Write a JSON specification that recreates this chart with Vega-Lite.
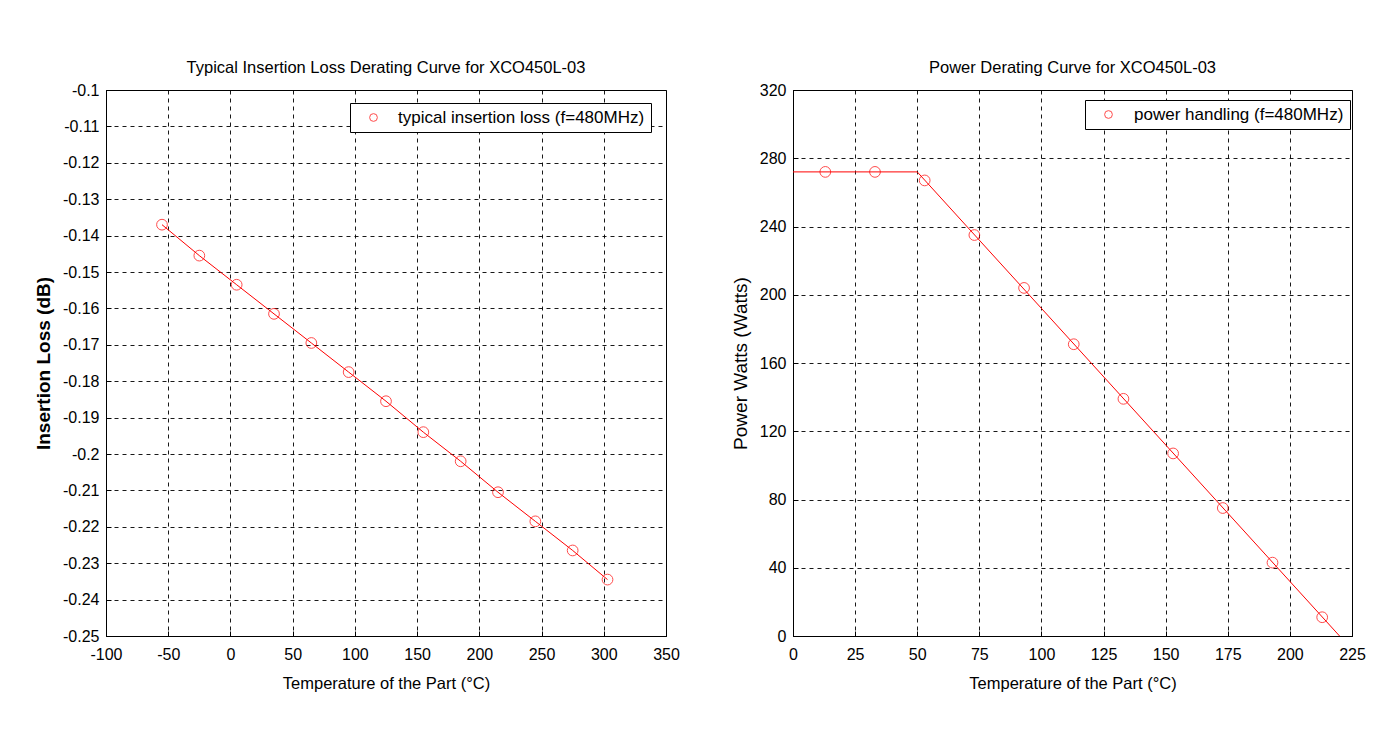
{
  "$schema": "https://vega.github.io/schema/vega-lite/v6.json",
  "background": "white",
  "padding": {"left": 34, "top": 59, "right": 10, "bottom": 10},
  "spacing": 50,
  "datasets": {
    "loss": [
      {"temp": -55, "loss": -0.137, "series": "typical insertion loss (f=480MHz)"},
      {"temp": -25, "loss": -0.1455, "series": "typical insertion loss (f=480MHz)"},
      {"temp": 5, "loss": -0.1535, "series": "typical insertion loss (f=480MHz)"},
      {"temp": 35, "loss": -0.1615, "series": "typical insertion loss (f=480MHz)"},
      {"temp": 65, "loss": -0.1695, "series": "typical insertion loss (f=480MHz)"},
      {"temp": 95, "loss": -0.1775, "series": "typical insertion loss (f=480MHz)"},
      {"temp": 125, "loss": -0.1855, "series": "typical insertion loss (f=480MHz)"},
      {"temp": 155, "loss": -0.194, "series": "typical insertion loss (f=480MHz)"},
      {"temp": 185, "loss": -0.202, "series": "typical insertion loss (f=480MHz)"},
      {"temp": 215, "loss": -0.2105, "series": "typical insertion loss (f=480MHz)"},
      {"temp": 245, "loss": -0.2185, "series": "typical insertion loss (f=480MHz)"},
      {"temp": 275, "loss": -0.2265, "series": "typical insertion loss (f=480MHz)"},
      {"temp": 303, "loss": -0.2345, "series": "typical insertion loss (f=480MHz)"}
    ],
    "power": [
      {"temp": 13, "watts": 272, "series": "power handling (f=480MHz)"},
      {"temp": 33, "watts": 272, "series": "power handling (f=480MHz)"},
      {"temp": 53, "watts": 267, "series": "power handling (f=480MHz)"},
      {"temp": 73, "watts": 235, "series": "power handling (f=480MHz)"},
      {"temp": 93, "watts": 204, "series": "power handling (f=480MHz)"},
      {"temp": 113, "watts": 171, "series": "power handling (f=480MHz)"},
      {"temp": 133, "watts": 139, "series": "power handling (f=480MHz)"},
      {"temp": 153, "watts": 107, "series": "power handling (f=480MHz)"},
      {"temp": 173, "watts": 75, "series": "power handling (f=480MHz)"},
      {"temp": 193, "watts": 43, "series": "power handling (f=480MHz)"},
      {"temp": 213, "watts": 11, "series": "power handling (f=480MHz)"}
    ],
    "powerCurve": [
      {"temp": 0, "watts": 272},
      {"temp": 50, "watts": 272},
      {"temp": 220, "watts": 0}
    ]
  },
  "hconcat": [
    {
      "width": 560,
      "height": 546,
      "title": {"text": "Typical Insertion Loss Derating Curve for XCO450L-03", "offset": 6},
      "layer": [
        {
          "data": {"name": "loss"},
          "mark": {"type": "line", "color": "red", "strokeWidth": 1},
          "encoding": {
            "x": {"field": "temp", "type": "quantitative", "scale": {"domain": [-100, 350], "nice": false, "zero": false},
              "axis": {"title": "Temperature of the Part (°C)", "values": [-100, -50, 0, 50, 100, 150, 200, 250, 300, 350], "tickCount": 20, "labelExpr": "replace(format(datum.value, 'd'), '\u2212', '-')", "labelPadding": 15, "titlePadding": 13}},
            "y": {"field": "loss", "type": "quantitative", "scale": {"domain": [-0.25, -0.1], "nice": false, "zero": false},
              "axis": {"title": "Insertion Loss (dB)", "titleFontWeight": "bold", "titleFontSize": 19, "titlePadding": 9, "labelPadding": 12, "labelOverlap": false, "tickCount": 20, "values": [-0.25, -0.24, -0.23, -0.22, -0.21, -0.2, -0.19, -0.18, -0.17, -0.16, -0.15, -0.14, -0.13, -0.12, -0.11, -0.1], "labelExpr": "replace(format(datum.value, '~g'), '\u2212', '-')"}}
          }
        },
        {
          "data": {"name": "loss"},
          "mark": {"type": "point", "shape": "circle", "filled": false, "size": 115, "strokeWidth": 1},
          "encoding": {
            "x": {"field": "temp", "type": "quantitative"},
            "y": {"field": "loss", "type": "quantitative"},
            "color": {"field": "series", "type": "nominal", "scale": {"range": ["red"]},
              "legend": {"title": null, "orient": "none", "legendX": 244, "legendY": 13, "strokeColor": "black", "fillColor": "white", "padding": 6, "symbolSize": 60, "labelFontSize": 17, "labelLimit": 0, "symbolStrokeWidth": 1, "symbolOffset": 9, "labelOffset": 16}}
          }
        }
      ]
    },
    {
      "width": 559,
      "height": 546,
      "title": {"text": "Power Derating Curve for XCO450L-03", "offset": 6},
      "layer": [
        {
          "data": {"name": "powerCurve"},
          "mark": {"type": "line", "color": "red", "strokeWidth": 1},
          "encoding": {
            "x": {"field": "temp", "type": "quantitative", "scale": {"domain": [0, 225], "nice": false},
              "axis": {"title": "Temperature of the Part (°C)", "values": [0, 25, 50, 75, 100, 125, 150, 175, 200, 225], "tickCount": 20, "labelPadding": 15, "titlePadding": 13}},
            "y": {"field": "watts", "type": "quantitative", "scale": {"domain": [0, 320], "nice": false},
              "axis": {"title": "Power Watts (Watts)", "titleFontSize": 19, "titlePadding": 9, "labelPadding": 12, "labelOverlap": false, "tickCount": 20, "values": [0, 40, 80, 120, 160, 200, 240, 280, 320]}}
          }
        },
        {
          "data": {"name": "power"},
          "mark": {"type": "point", "shape": "circle", "filled": false, "size": 115, "strokeWidth": 1},
          "encoding": {
            "x": {"field": "temp", "type": "quantitative"},
            "y": {"field": "watts", "type": "quantitative"},
            "color": {"field": "series", "type": "nominal", "scale": {"range": ["red"]},
              "legend": {"title": null, "orient": "none", "legendX": 292, "legendY": 10, "strokeColor": "black", "fillColor": "white", "padding": 6, "symbolSize": 60, "labelFontSize": 17, "labelLimit": 0, "symbolStrokeWidth": 1, "symbolOffset": 9, "labelOffset": 17}}
          }
        }
      ]
    }
  ],
  "resolve": {"scale": {"color": "independent"}},
  "config": {
    "font": "Liberation Sans",
    "view": {"stroke": "black", "strokeWidth": 1},
    "title": {"fontSize": 16.5, "fontWeight": "normal", "color": "black", "font": "Liberation Sans"},
    "axis": {
      "labelFontSize": 16,
      "labelColor": "black",
      "titleFontSize": 16.5,
      "titleFontWeight": "normal",
      "titleColor": "black",
      "domainColor": "black",
      "tickColor": "black",
      "tickSize": -5,
      "labelOverlap": false,
      "grid": true,
      "gridColor": "black",
      "gridDash": [4, 4],
      "gridOpacity": 0.9,
      "gridWidth": 1,
      "labelFlush": false
    },
    "legend": {"labelColor": "black", "symbolType": "circle"}
  }
}
